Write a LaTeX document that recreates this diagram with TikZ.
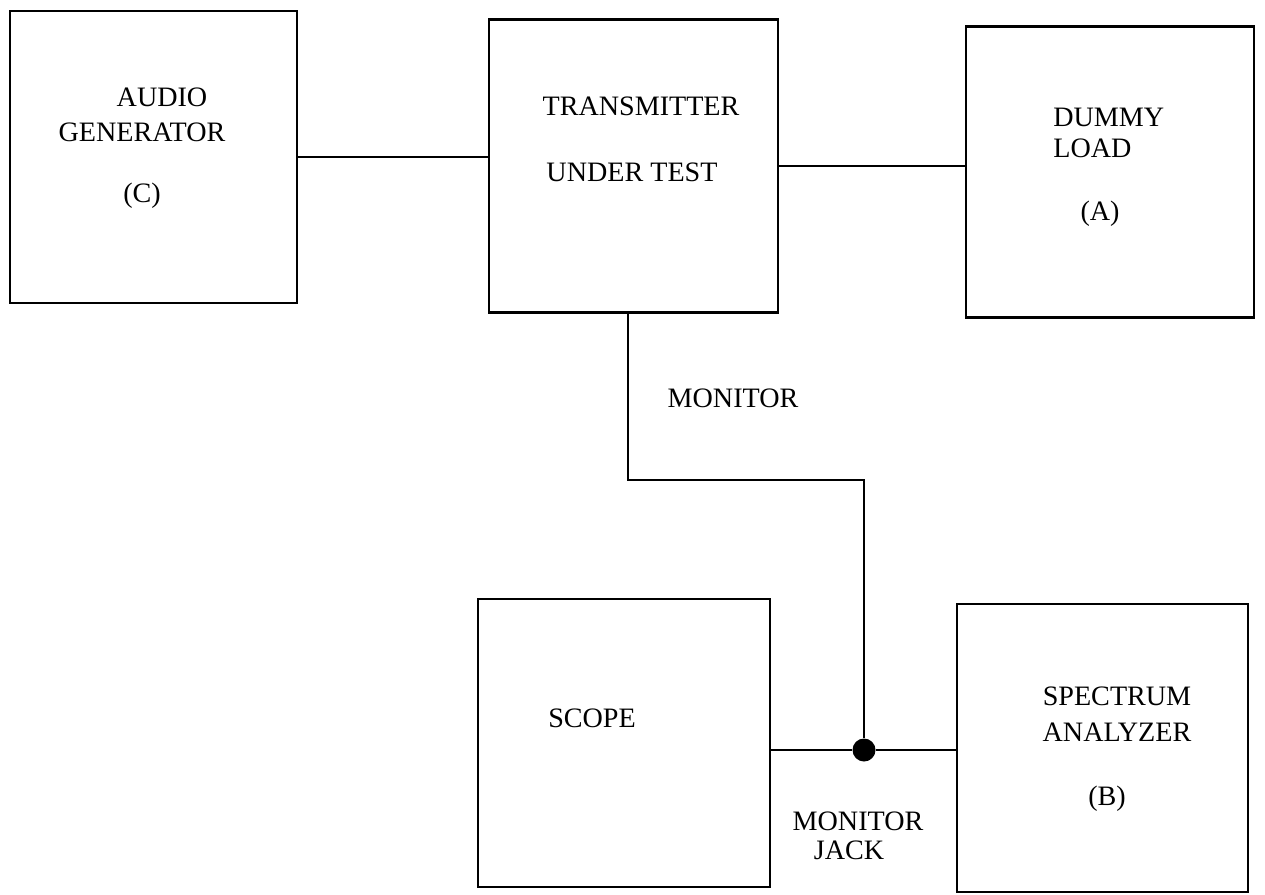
\documentclass[tikz,border=0pt]{standalone}
\usepackage{fontspec}
\setmainfont{Liberation Serif}
\usetikzlibrary{positioning}
\tikzset{
  unit/.style    = {rectangle, draw=black, line width=1.2pt, inner sep=0pt},
  lbl/.style     = {font=\fontsize{16}{19}\selectfont, inner sep=0pt},
  wire/.style    = {line width=1.1pt},
  jackdot/.style = {circle, fill=black, inner sep=0pt, minimum size=4.6mm},
}
\begin{document}
\begin{tikzpicture}[x=0.2mm, y=-0.2mm]
  \useasboundingbox (0,0) rectangle (1265,895);
  % units
  \node[unit, minimum width=57.4mm, minimum height=58.4mm] (gen)   at (153.5,157)  {};
  \node[unit, minimum width=57.8mm, minimum height=58.6mm] (tx)    at (633.5,166) {};
  \node[unit, minimum width=57.6mm, minimum height=58.2mm] (load)  at (1110,172) {};
  \node[unit, minimum width=58.4mm, minimum height=57.6mm] (scope) at (624,743)    {};
  \node[unit, minimum width=58.2mm, minimum height=57.6mm] (spec)  at (1102.5,748) {};
  % labels
  \node[lbl] (genA)  at (162,97)   {AUDIO};
  \node[lbl] (genB)  at (142,132)  {GENERATOR};
  \node[lbl] (genC)  at (142,196)  {(C)};
  \node[lbl] (txA)   at (641,106)  {TRANSMITTER};
  \node[lbl] (txB)   at (632,172)  {UNDER TEST};
  \node[lbl, anchor=west] (loadA) at (1053,117) {DUMMY};
  \node[lbl, anchor=west] (loadB) at (1053,148) {LOAD};
  \node[lbl] (loadC) at (1100,214) {(A)};
  \node[lbl] (mon)   at (733,398)  {MONITOR};
  \node[lbl] (scopeA) at (592,718) {SCOPE};
  \node[lbl] (specA) at (1117,696) {SPECTRUM};
  \node[lbl] (specB) at (1117,732) {ANALYZER};
  \node[lbl] (specC) at (1107,799) {(B)};
  \node[lbl] (jackA) at (858,821)  {MONITOR};
  \node[lbl] (jackB) at (849,850)  {JACK};
  % connections
  \node[jackdot] (jack) at (864,750) {};
  \coordinate (bend) at (628,480);
  \draw[wire] (gen.east) -- (gen.east -| tx.west);
  \draw[wire] (tx.east) -- (tx.east -| load.west);
  \draw[wire] (tx.south -| bend) -- (bend) -| (jack);
  \draw[wire] (scope.east |- jack) -- (jack) -- (jack -| spec.west);
\end{tikzpicture}
\end{document}
